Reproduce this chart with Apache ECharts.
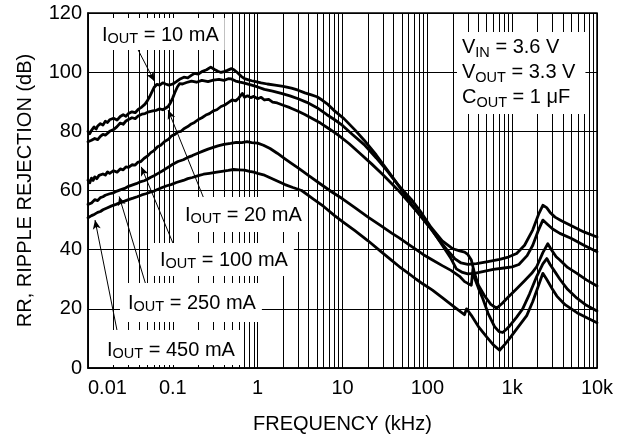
<!DOCTYPE html>
<html>
<head>
<meta charset="utf-8">
<title>Ripple Rejection vs Frequency</title>
<script src="https://cdn.jsdelivr.net/npm/echarts@6/dist/echarts.min.js"></script>
<style>
  html, body { margin: 0; padding: 0; background: #fff; }
  #chart { width: 618px; height: 439px; }
</style>
</head>
<body>
<div id="chart"></div>
<script>
// Ripple rejection (dB) versus frequency (kHz), one trace per load current.
const loadLabels = ['10 mA', '20 mA', '100 mA', '250 mA', '450 mA'];

const rr10mA = [
  [0.01, 80.0], [0.0105, 79.2], [0.011, 80.3], [0.0118, 81.5], [0.0125, 80.8], [0.013, 81.8],
  [0.014, 82.6], [0.015, 82.1], [0.016, 83.4], [0.017, 83.0], [0.018, 83.9], [0.02, 84.4],
  [0.022, 83.8], [0.024, 85.0], [0.026, 85.6], [0.028, 85.1], [0.03, 86.0], [0.033, 86.6],
  [0.036, 86.3], [0.039, 87.4], [0.043, 88.2], [0.047, 89.2], [0.05, 90.3], [0.053, 91.6],
  [0.056, 93.0], [0.06, 94.8], [0.065, 95.9], [0.07, 95.6], [0.076, 96.4], [0.082, 96.0],
  [0.09, 95.6], [0.1, 96.0], [0.11, 96.8], [0.12, 97.6], [0.135, 98.3], [0.15, 98.1],
  [0.165, 98.9], [0.18, 99.6], [0.2, 99.3], [0.22, 100.2], [0.25, 100.8], [0.28, 101.7],
  [0.31, 100.9], [0.34, 100.3], [0.37, 99.9], [0.4, 100.2], [0.44, 100.6], [0.49, 101.2],
  [0.53, 100.7], [0.58, 99.8], [0.64, 98.6], [0.7, 97.8], [0.78, 97.4], [0.85, 97.1],
  [0.95, 96.8], [1.1, 96.4], [1.3, 96.0], [1.6, 95.6], [2.0, 95.2], [2.5, 94.6], [3.0, 93.9],
  [3.6, 93.0], [4.3, 92.3], [5.0, 91.7], [5.8, 90.5], [6.6, 89.3], [8.0, 87.0], [10.4, 84.3],
  [14, 80.5], [18, 77.0], [25, 72.0], [33.6, 67.0], [45, 62.0], [64.7, 57.0], [85, 52.5],
  [111, 47.5], [150, 43.0], [200, 40.3], [240, 39.6], [275, 39.2], [300, 38.4], [330, 36.5],
  [360, 32.0], [400, 28.0], [470, 24.5], [560, 21.5], [656, 20.2], [760, 21.8], [900, 24.0],
  [1130, 26.8], [1400, 29.5], [1700, 32.0], [1950, 34.3], [2300, 39.0], [2630, 42.0],
  [2900, 40.0], [3300, 37.6], [3650, 36.5], [4500, 34.0], [5800, 32.0], [7500, 29.8], [10000, 27.7]
];

const rr20mA = [
  [0.01, 76.5], [0.0105, 76.0], [0.011, 77.0], [0.012, 77.6], [0.013, 77.2], [0.014, 78.3],
  [0.015, 79.0], [0.016, 78.7], [0.018, 80.0], [0.02, 80.6], [0.022, 81.6], [0.024, 82.8],
  [0.026, 82.4], [0.028, 83.5], [0.03, 84.0], [0.033, 84.6], [0.036, 84.3], [0.039, 85.2],
  [0.043, 85.8], [0.047, 86.0], [0.052, 86.6], [0.058, 86.9], [0.064, 87.1], [0.07, 87.6],
  [0.076, 87.3], [0.082, 87.8], [0.088, 88.4], [0.094, 89.7], [0.1, 91.4], [0.106, 93.2],
  [0.113, 95.0], [0.12, 96.1], [0.13, 96.0], [0.145, 96.5], [0.166, 97.0], [0.19, 96.6],
  [0.22, 97.2], [0.26, 96.8], [0.3, 97.3], [0.35, 97.6], [0.4, 97.2], [0.45, 97.8],
  [0.49, 97.7], [0.55, 97.0], [0.62, 96.6], [0.7, 96.3], [0.85, 95.6], [1.0, 95.0],
  [1.2, 94.2], [1.5, 93.6], [1.9, 92.8], [2.4, 92.0], [3.0, 91.0], [3.8, 89.8], [5.0, 88.0],
  [6.5, 85.7], [8.0, 84.0], [10, 82.0], [13, 79.0], [18, 75.5], [25, 71.0], [34, 66.5],
  [45, 62.0], [65, 55.5], [85, 51.0], [110, 47.0], [140, 43.0], [170, 40.0], [210, 37.0],
  [250, 35.5], [300, 35.0], [380, 35.3], [500, 35.9], [711, 36.7], [900, 37.5], [1130, 38.7],
  [1400, 41.5], [1750, 46.7], [2050, 52.0], [2300, 55.0], [2550, 54.2], [2800, 52.6],
  [3200, 51.0], [3800, 49.8], [5200, 47.8], [7000, 46.0], [10000, 44.3]
];

const rr100mA = [
  [0.01, 63.5], [0.0105, 62.6], [0.011, 64.2], [0.0115, 63.4], [0.012, 64.6], [0.0127, 64.0],
  [0.0135, 65.1], [0.014, 64.5], [0.015, 65.6], [0.016, 65.2], [0.017, 66.3], [0.018, 65.8],
  [0.02, 66.7], [0.022, 66.2], [0.024, 67.3], [0.026, 67.0], [0.028, 68.0], [0.03, 67.8],
  [0.033, 68.7], [0.036, 68.6], [0.039, 69.6], [0.042, 69.8], [0.046, 70.9], [0.05, 71.6],
  [0.055, 72.8], [0.06, 73.5], [0.066, 74.8], [0.072, 75.3], [0.08, 76.6], [0.088, 77.2],
  [0.096, 78.4], [0.105, 78.9], [0.115, 79.8], [0.125, 80.0], [0.135, 80.9], [0.15, 81.6],
  [0.165, 82.5], [0.18, 83.0], [0.2, 84.0], [0.22, 84.6], [0.245, 85.5], [0.27, 86.0],
  [0.3, 86.9], [0.33, 87.3], [0.37, 88.4], [0.41, 88.9], [0.45, 89.7], [0.5, 90.6],
  [0.55, 90.3], [0.6, 91.3], [0.66, 92.8], [0.7, 91.5], [0.76, 92.0], [0.83, 91.4],
  [0.9, 91.8], [1.0, 91.0], [1.1, 91.5], [1.2, 90.6], [1.35, 90.8], [1.5, 89.9], [1.7, 89.6],
  [2.0, 88.8], [2.4, 88.0], [3.0, 86.8], [3.6, 85.7], [4.5, 84.2], [5.5, 82.8], [7.0, 80.8],
  [9.0, 78.6], [12, 75.8], [16, 72.6], [22, 69.0], [30, 65.3], [45, 60.2], [65, 55.0],
  [90, 50.3], [115, 46.5], [150, 41.5], [190, 37.0], [220, 33.5], [260, 32.3], [300, 31.8],
  [360, 32.0], [450, 32.6], [600, 33.3], [800, 33.8], [1000, 34.2], [1200, 35.0], [1500, 38.0],
  [1750, 41.5], [2000, 46.0], [2300, 50.0], [2600, 48.6], [3000, 47.0], [3650, 45.5],
  [5000, 43.8], [7000, 41.5], [10000, 39.3]
];

const rr250mA = [
  [0.01, 55.3], [0.011, 55.8], [0.012, 56.9], [0.013, 56.6], [0.014, 57.6], [0.015, 57.9],
  [0.016, 58.4], [0.018, 58.9], [0.02, 59.2], [0.022, 59.8], [0.024, 60.2], [0.027, 60.7],
  [0.03, 61.4], [0.033, 61.8], [0.037, 62.3], [0.041, 62.9], [0.046, 63.3], [0.05, 63.8],
  [0.055, 64.5], [0.06, 65.0], [0.067, 65.8], [0.075, 66.6], [0.083, 67.4], [0.092, 68.2],
  [0.1, 68.9], [0.115, 69.8], [0.133, 70.4], [0.15, 71.2], [0.17, 71.8], [0.2, 72.7],
  [0.23, 73.4], [0.26, 74.0], [0.3, 74.6], [0.34, 75.1], [0.4, 75.6], [0.48, 75.9],
  [0.56, 76.3], [0.65, 76.2], [0.75, 76.5], [0.85, 76.2], [1.0, 76.0], [1.17, 75.3],
  [1.4, 74.2], [1.7, 72.6], [2.1, 70.7], [2.5, 69.2], [3.05, 67.5], [4, 65.0], [5.5, 62.2],
  [7.5, 59.5], [10, 57.2], [14, 54.2], [20, 51.0], [28, 48.2], [38, 45.6], [46.6, 44.0],
  [60, 41.8], [74, 40.0], [90, 38.3], [115, 36.5], [150, 34.6], [190, 33.0], [240, 31.0],
  [275, 29.2], [300, 28.6], [330, 28.0], [345, 33.5], [365, 30.0], [400, 27.0], [450, 23.5],
  [520, 18.5], [620, 14.0], [700, 12.3], [772, 12.0], [850, 13.0], [934, 14.2], [1130, 17.2],
  [1330, 20.0], [1600, 25.0], [1950, 31.0], [2300, 35.2], [2560, 37.0], [2800, 35.0],
  [3200, 32.5], [3650, 30.0], [4500, 26.6], [5800, 23.6], [7500, 21.2], [10000, 19.3]
];

const rr450mA = [
  [0.01, 50.8], [0.011, 51.5], [0.012, 52.0], [0.013, 52.6], [0.014, 52.9], [0.015, 53.5],
  [0.017, 54.2], [0.019, 54.8], [0.0214, 55.3], [0.024, 55.9], [0.027, 56.4], [0.03, 56.9],
  [0.034, 57.4], [0.038, 57.9], [0.043, 58.5], [0.048, 58.9], [0.054, 59.4], [0.06, 59.8],
  [0.067, 60.4], [0.075, 61.0], [0.085, 61.6], [0.095, 62.0], [0.11, 62.7], [0.133, 63.4],
  [0.15, 64.0], [0.17, 64.4], [0.2, 65.0], [0.23, 65.5], [0.27, 65.8], [0.33, 66.2],
  [0.38, 66.5], [0.45, 66.8], [0.52, 67.1], [0.6, 67.0], [0.7, 66.9], [0.8, 66.5], [0.9, 66.2],
  [1.0, 65.8], [1.17, 65.3], [1.4, 64.3], [1.7, 63.2], [2.1, 62.0], [2.6, 61.0], [3.3, 60.0],
  [4.5, 57.2], [6, 54.6], [8, 51.6], [10, 49.5], [14, 46.4], [20, 43.0], [28, 39.5],
  [38, 36.4], [46.6, 34.3], [60, 32.0], [74, 30.0], [90, 28.3], [115, 26.3], [150, 23.8],
  [200, 21.0], [250, 18.9], [274, 18.0], [290, 20.0], [330, 17.8], [400, 14.0], [500, 10.5],
  [600, 7.8], [711, 6.0], [820, 8.0], [934, 10.0], [1150, 13.5], [1485, 17.7], [1750, 22.5],
  [2050, 28.0], [2300, 32.0], [2550, 30.0], [3000, 26.5], [3360, 24.3], [4200, 21.4],
  [5800, 18.7], [7800, 16.8], [10000, 15.3]
];

const traces = [rr10mA, rr20mA, rr100mA, rr250mA, rr450mA];

// Axis ticks
const freqTicks = [0.01, 0.1, 1, 10, 100, 1000, 10000];
const freqTickText = ['0.01', '0.1', '1', '10', '100', '1k', '10k'];
const rrTicks = [0, 20, 40, 60, 80, 100, 120];

// Intermediate log grid lines inside each decade (2x .. 9x)
const gridDecades = [0.01, 0.1, 1, 10, 100, 1000];
const gridSteps = [2, 3, 4, 5, 6, 7, 8, 9];

// Leader arrows from each load label to its trace: [from, to] in (kHz, dB)
const leaderLines = [
  [[0.039, 107.5], [0.0604, 97.0]],
  [[0.229, 57.7], [0.088, 87.2]],
  [[0.101, 42.0], [0.0424, 68.0]],
  [[0.0486, 27.7], [0.0233, 58.0]],
  [[0.0226, 11.0], [0.0121, 50.0]]
];

const FONT = '"Liberation Sans", Arial, Helvetica, sans-serif';
const INK = '#000';

const chart = echarts.init(document.getElementById('chart'), null, { renderer: 'canvas' });

const minorLines = [];
gridDecades.forEach(d => gridSteps.forEach(s => minorLines.push({ xAxis: +(d * s).toPrecision(3) })));

const curveSeries = traces.map((data, i) => ({
  name: 'IOUT = ' + loadLabels[i],
  type: 'line',
  data: data,
  showSymbol: false,
  smooth: false,
  z: 5,
  lineStyle: { color: INK, width: 2.8, join: 'round', cap: 'round' },
  emphasis: { disabled: true },
  animation: false
}));

const tickMap = {};
freqTicks.forEach((v, i) => { tickMap[v] = freqTickText[i]; });

const rich = {
  m: { fontFamily: FONT, fontSize: 20, color: INK, lineHeight: 22 },
  s: { fontFamily: FONT, fontSize: 14.5, color: INK, lineHeight: 12, verticalAlign: 'bottom' }
};
const richBox = {
  m: { fontFamily: FONT, fontSize: 20, color: INK, lineHeight: 25 },
  s: { fontFamily: FONT, fontSize: 14.5, color: INK, lineHeight: 15, verticalAlign: 'bottom' }
};

function loadLabel(text, x, y, pad) {
  return {
    type: 'text',
    x: x, y: y, z: 50,
    silent: true,
    style: {
      text: '{m|I}{s|OUT}{m| = ' + text + '}',
      rich: rich,
      align: 'left', verticalAlign: 'top',
      textAlign: 'left', textVerticalAlign: 'top',
      backgroundColor: '#fff',
      padding: pad
    }
  };
}

const option = {
  animation: false,
  backgroundColor: '#fff',
  grid: {
    left: 88, right: 21, top: 13, bottom: 66,
    show: true, borderColor: INK, borderWidth: 1.5, backgroundColor: 'transparent'
  },
  xAxis: {
    type: 'log',
    logBase: 10,
    min: 0.01,
    max: 10000,
    name: 'FREQUENCY (kHz)',
    nameLocation: 'middle',
    nameGap: 46,
    nameTextStyle: { fontFamily: FONT, fontSize: 20, color: INK },
    axisLine: { show: true, lineStyle: { color: INK, width: 1.5 } },
    axisTick: { show: false },
    splitLine: { show: true, lineStyle: { color: INK, width: 1 } },
    axisLabel: {
      fontFamily: FONT, fontSize: 20, color: INK, margin: 10,
      alignMinLabel: 'left',
      formatter: v => tickMap[v] !== undefined ? tickMap[v] : ''
    }
  },
  yAxis: {
    type: 'value',
    min: rrTicks[0],
    max: rrTicks[rrTicks.length - 1],
    interval: 20,
    name: 'RR, RIPPLE REJECTION (dB)',
    nameLocation: 'middle',
    nameGap: 53,
    nameTextStyle: { fontFamily: FONT, fontSize: 20, color: INK },
    axisLine: { show: true, lineStyle: { color: INK, width: 1.5 } },
    axisTick: { show: false },
    splitLine: { show: true, lineStyle: { color: INK, width: 1 } },
    axisLabel: { fontFamily: FONT, fontSize: 20, color: INK, margin: 6 }
  },
  series: [
    {
      name: 'grid',
      type: 'line',
      data: [],
      z: 1,
      silent: true,
      markLine: {
        silent: true,
        symbol: ['none', 'none'],
        label: { show: false },
        lineStyle: { color: INK, width: 1, type: 'solid' },
        emphasis: { disabled: true },
        animation: false,
        data: minorLines
      }
    },
    {
      name: 'leaders',
      type: 'line',
      data: [],
      z: 6,
      silent: true,
      markLine: {
        silent: true,
        symbol: ['none', 'arrow'],
        symbolSize: [6, 9],
        label: { show: false },
        lineStyle: { color: INK, width: 1, type: 'solid' },
        emphasis: { disabled: true },
        animation: false,
        data: leaderLines.map(([a, b]) => [{ coord: a }, { coord: b }])
      }
    }
  ].concat(curveSeries),
  graphic: {
    elements: [
      loadLabel(loadLabels[0], 97, 18, [6, 6, 4, 5]),
      loadLabel(loadLabels[1], 180, 197, [7, 6, 6, 5]),
      loadLabel(loadLabels[2], 150, 243, [6, 6, 5, 10]),
      loadLabel(loadLabels[3], 120, 283, [9, 6, 8, 8]),
      loadLabel(loadLabels[4], 100, 330, [9, 7, 4, 7]),
      {
        type: 'text',
        x: 457, y: 32, z: 50,
        silent: true,
        style: {
          text: '{m|V}{s|IN}{m| = 3.6 V}\n{m|V}{s|OUT}{m| = 3.3 V}\n{m|C}{s|OUT}{m| = 1 μF}',
          rich: richBox,
          align: 'left', verticalAlign: 'top',
          textAlign: 'left', textVerticalAlign: 'top',
          backgroundColor: '#fff',
          padding: [3, 10, 4, 5]
        }
      }
    ]
  }
};

chart.setOption(option);
</script>
</body>
</html>
